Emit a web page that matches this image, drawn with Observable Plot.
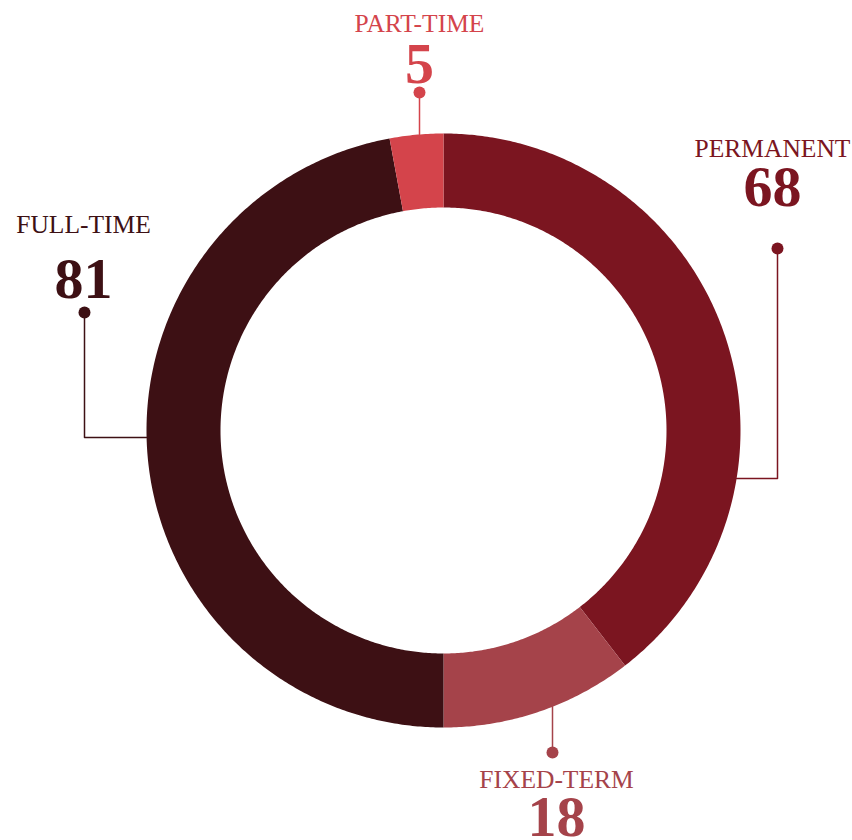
<!DOCTYPE html>
<html><head><meta charset="utf-8">
<script src="https://cdn.jsdelivr.net/npm/d3@7"></script>
<script src="https://cdn.jsdelivr.net/npm/@observablehq/plot@0.6"></script>
<style>body{margin:0;background:#fff}</style>
</head><body><div id="chart"></div>
<script>
// Data
const categories = ["PERMANENT", "FIXED-TERM", "FULL-TIME", "PART-TIME"];
const values = [68, 18, 81, 5];
const colors = ["#7b1520", "#a5434a", "#3d1014", "#d4444b"];

// Layout (px relative to donut centre, y up)
const R_OUT = 297, R_IN = 223;
const labelLayout = {
  "PERMANENT":  {tx: 329,  nameY: 274,  numY: 225,  dotX: 334,  dotY: 182,  elbowY: -48, side: 1},
  "FIXED-TERM": {tx: 113,  nameY: -357, numY: -405, dotX: 109,  dotY: -322, elbowY: null, side: -1},
  "FULL-TIME":  {tx: -360, nameY: 198,  numY: 133,  dotX: -359, dotY: 118,  elbowY: -7,  side: -1},
  "PART-TIME":  {tx: -24,  nameY: 399,  numY: 348,  dotX: -24,  dotY: 338,  elbowY: null, side: 1}
};

const data = categories.map((name, i) => ({name, value: values[i]}));
const arcs = d3.pie().sort(null).value(d => d.value).startAngle(0).endAngle(2 * Math.PI)(data);

// Slice polygons
const slicePts = [];
for (const a of arcs) {
  const n = Math.max(4, Math.ceil((a.endAngle - a.startAngle) / (Math.PI / 360)));
  for (let k = 0; k <= n; k++) {
    const t = a.startAngle + (a.endAngle - a.startAngle) * k / n;
    slicePts.push({name: a.data.name, x: R_OUT * Math.sin(t), y: R_OUT * Math.cos(t)});
  }
  for (let k = n; k >= 0; k--) {
    const t = a.startAngle + (a.endAngle - a.startAngle) * k / n;
    slicePts.push({name: a.data.name, x: R_IN * Math.sin(t), y: R_IN * Math.cos(t)});
  }
}

// Labels & leaders
const labels = data.map(d => ({...d, ...labelLayout[d.name]}));
const leaderPts = [];
for (const l of labels) {
  leaderPts.push({name: l.name, x: l.dotX, y: l.dotY});
  if (l.elbowY !== null) {
    leaderPts.push({name: l.name, x: l.dotX, y: l.elbowY});
    leaderPts.push({name: l.name, x: l.side * Math.sqrt(R_OUT * R_OUT - l.elbowY * l.elbowY), y: l.elbowY});
  } else {
    leaderPts.push({name: l.name, x: l.dotX, y: l.side * Math.sqrt(R_OUT * R_OUT - l.dotX * l.dotX)});
  }
}

const font = "'Liberation Serif', 'DejaVu Serif', serif";

const chart = Plot.plot({
  width: 852,
  height: 840,
  margin: 0,
  x: {domain: [-443, 409], axis: null},
  y: {domain: [-410, 430], axis: null},
  color: {domain: categories, range: colors},
  marks: [
    Plot.line(slicePts, {x: "x", y: "y", z: "name", fill: "name", stroke: null, curve: "linear-closed"}),
    Plot.line(leaderPts, {x: "x", y: "y", z: "name", stroke: "name", strokeWidth: 1.5}),
    Plot.dot(labels, {x: "dotX", y: "dotY", r: 6, fill: "name", stroke: null}),
    Plot.text(labels, {x: "tx", y: "nameY", text: "name", fill: "name", fontSize: 25.5, fontFamily: font, textAnchor: "middle", lineAnchor: "bottom"}),
    Plot.text(labels, {x: "tx", y: "numY", text: d => String(d.value), fill: "name", fontSize: 58, fontWeight: "bold", fontFamily: font, textAnchor: "middle", lineAnchor: "bottom"})
  ]
});
document.getElementById("chart").appendChild(chart);
</script>
</body></html>
